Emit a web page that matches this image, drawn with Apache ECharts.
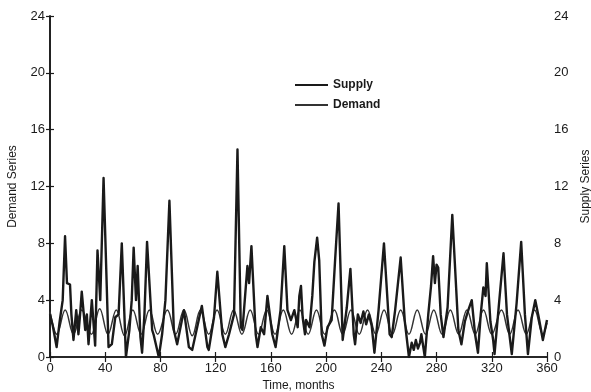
<!DOCTYPE html>
<html>
<head>
<meta charset="utf-8">
<script src="https://cdn.jsdelivr.net/npm/echarts@6/dist/echarts.min.js"></script>
<style>
  html, body { margin: 0; padding: 0; background: #fff; }
  #chart { width: 591px; height: 392px; }
</style>
</head>
<body>
<div id="chart"></div>
<script>
// x axis ticks (months) and y axis ticks
const monthTicks = [0, 40, 80, 120, 160, 200, 240, 280, 320, 360];
const seriesTicks = [0, 4, 8, 12, 16, 20, 24];

// thick line: [month, value]
const supplyPoints = [
  [0, 3.0], [2, 2.2], [4.8, 0.7], [7, 2.5], [9.2, 4.0], [10.9, 8.5], [12.3, 5.2], [14.5, 5.1], [15.5, 3.0],
  [17, 1.2], [19, 3.3], [20.6, 1.6], [21.8, 3.0], [23, 4.6], [25.5, 1.9], [26.7, 3.0], [27.9, 0.9],
  [30.3, 4.0], [32.7, 0.8], [34.4, 7.5], [36.4, 4.0], [38.8, 12.6], [42.4, 0.7], [44.8, 0.9],
  [47.3, 2.8], [49.7, 3.0], [52, 8.0], [55, 0.0], [57.5, 1.9], [59.2, 4.0], [60.6, 7.7], [62.3, 4.0],
  [63.5, 6.4], [65.5, 1.4], [66.7, 0.3], [68.4, 3.0], [70.3, 8.1], [74, 1.9], [75, 1.6], [78.8, 0.0],
  [81.2, 1.6], [83.6, 4.0], [84.8, 4.0], [86.5, 11.0], [89.7, 1.9], [92.1, 0.9], [97, 3.3],
  [100.6, 0.7], [103, 0.5], [110, 3.6], [114, 0.7], [115, 0.5], [118.8, 2.8], [121.2, 6.0],
  [124.8, 1.6], [127, 0.7], [129.7, 1.6], [133.3, 3.0], [135.8, 14.6], [138.2, 2.1], [139.4, 1.9],
  [143, 6.4], [144.2, 5.2], [145.9, 7.8], [149, 1.6], [150.3, 0.7], [152.7, 2.1], [155.1, 1.6],
  [157.5, 4.3], [161, 1.6], [163.4, 0.7], [167, 3.3], [169.7, 7.8], [172, 3.3], [174.5, 2.6],
  [177, 3.3], [179.4, 2.1], [180.6, 4.3], [181.8, 5.0], [183, 2.8], [184.7, 1.6], [185.5, 2.6],
  [188, 2.1], [190, 4.3], [191.5, 6.7], [193.5, 8.4], [195, 6.8], [196.8, 1.6], [198.8, 0.8],
  [201, 2.1], [204, 2.6], [206.5, 6.8], [209, 10.8], [212, 1.2], [215, 3.5], [217.6, 6.2],
  [220, 1.6], [221, 0.9], [223, 3.0], [225, 2.4], [227, 3.2], [229, 2.3], [231, 3.0], [233, 2.2],
  [235, 0.3], [238, 3.3], [241.9, 8.0], [246, 1.6], [247.5, 1.4], [250, 3.3], [254, 7.0],
  [257, 2.5], [260, 0.0], [262, 1.0], [263.5, 0.5], [265, 1.2], [266.5, 0.6], [268, 1.0],
  [269, 1.6], [271.5, 0.0], [274, 3.0], [276, 5.0], [277.5, 7.1], [278.8, 5.2], [280, 6.5],
  [281.2, 6.3], [283, 3.0], [285, 1.4], [288, 3.5], [291.4, 10.0], [295.8, 1.9], [298, 0.9],
  [300.5, 2.5], [303, 3.3], [305.5, 4.0], [307.9, 1.6], [310, 0.3], [312, 3.0], [313.9, 4.9],
  [315.5, 4.3], [316.4, 6.6], [319, 2.5], [321, 1.2], [322, 0.2], [325, 3.5], [328.5, 7.3],
  [331, 3.0], [334.5, 0.2], [338, 3.8], [341.3, 8.1], [344, 3.0], [346.2, 0.2], [349, 2.8],
  [351.5, 4.0], [354, 2.8], [357, 1.2], [360, 2.6]
];

// thin line: [month, value]
const demandPoints = [
  [0, 3.2], [5, 1.6], [11, 3.3], [17, 1.6], [23, 3.3], [30, 1.6], [36, 3.4], [42, 1.6], [48, 3.3],
  [54, 1.5], [60, 3.3], [66, 1.6], [72, 3.3], [78, 1.6], [85, 3.3], [91, 1.6], [97, 3.3], [103, 1.5],
  [109, 3.3], [115, 1.6], [121, 3.3], [127, 1.6], [133, 3.3], [139, 1.6], [145, 3.3], [151, 1.6],
  [157, 3.3], [163, 1.6], [169, 3.3], [175, 1.6], [181, 3.3], [187, 1.6], [193, 3.3], [199, 1.6],
  [206, 3.3], [212, 1.6], [218, 3.3], [224, 1.6], [230, 3.3], [236, 1.6], [242, 3.3], [248, 1.6],
  [254, 3.3], [260, 1.6], [266, 3.3], [272, 1.6], [278, 3.3], [284, 1.6], [290, 3.3], [296, 1.6],
  [302, 3.3], [308, 1.6], [314, 3.3], [320, 1.6], [327, 3.3], [333, 1.6], [339, 3.3], [345, 1.6],
  [351, 3.3], [357, 1.6], [360, 2.4]
];

const FONT = 'Liberation Sans';
const INK = '#1a1a1a';

const chart = echarts.init(document.getElementById('chart'), null, { renderer: 'canvas' });

const yAxisBase = {
  type: 'value',
  min: seriesTicks[0],
  max: seriesTicks[seriesTicks.length - 1],
  interval: 4,
  splitLine: { show: false },
  axisLine: { show: true, lineStyle: { color: INK, width: 1.6 } },
  axisTick: { show: true, inside: false, length: 4, lineStyle: { color: INK, width: 1.2 } },
  axisLabel: { color: INK, fontFamily: FONT, fontSize: 13, margin: 5 },
  nameLocation: 'middle',
  nameRotate: 90,
  nameTextStyle: { color: INK, fontFamily: FONT, fontSize: 12 }
};

const option = {
  animation: false,
  backgroundColor: '#fff',
  grid: { left: 50, right: 44, top: 16, bottom: 35, outerBoundsMode: 'none', containLabel: false },
  legend: {
    orient: 'vertical',
    left: 289,
    top: 74,
    itemWidth: 33,
    itemHeight: 12,
    itemGap: 8,
    itemStyle: { opacity: 0 },
    textStyle: { color: INK, fontFamily: FONT, fontSize: 12, fontWeight: 'bold' },
    data: ['Supply', 'Demand']
  },
  xAxis: [
    {
      type: 'value',
      position: 'bottom',
      min: monthTicks[0],
      max: monthTicks[monthTicks.length - 1],
      interval: 40,
      splitLine: { show: false },
      axisLine: { show: true, lineStyle: { color: INK, width: 1.6 } },
      axisTick: { show: true, inside: true, length: 5, lineStyle: { color: INK, width: 1.2 } },
      axisLabel: { color: INK, fontFamily: FONT, fontSize: 13, margin: 5 },
      name: 'Time, months',
      nameLocation: 'middle',
      nameGap: 14,
      nameTextStyle: { color: INK, fontFamily: FONT, fontSize: 12 }
    },
    {
      type: 'value',
      position: 'top',
      min: monthTicks[0],
      max: monthTicks[monthTicks.length - 1],
      interval: 40,
      splitLine: { show: false },
      axisLine: { show: true, lineStyle: { color: INK, width: 1.6 } },
      axisTick: { show: true, inside: true, length: 5, lineStyle: { color: INK, width: 1.2 } },
      axisLabel: { show: false }
    }
  ],
  yAxis: [
    Object.assign({}, yAxisBase, { position: 'left', name: 'Demand Series', nameGap: 31 }),
    Object.assign({}, yAxisBase, {
      position: 'right', name: 'Supply Series', nameGap: 26,
      axisLabel: { color: INK, fontFamily: FONT, fontSize: 13, margin: 7 }
    })
  ],
  series: [
    {
      name: 'Supply',
      type: 'line',
      xAxisIndex: 0,
      yAxisIndex: 0,
      data: supplyPoints,
      symbol: 'none',
      lineStyle: { color: INK, width: 2.4, join: 'round' },
      itemStyle: { color: INK },
      z: 3
    },
    {
      name: 'Demand',
      type: 'line',
      xAxisIndex: 0,
      yAxisIndex: 0,
      data: demandPoints,
      symbol: 'none',
      smooth: 0.4,
      lineStyle: { color: '#333', width: 1.5 },
      itemStyle: { color: '#333' },
      z: 2
    }
  ]
};

chart.setOption(option);
</script>
</body>
</html>
